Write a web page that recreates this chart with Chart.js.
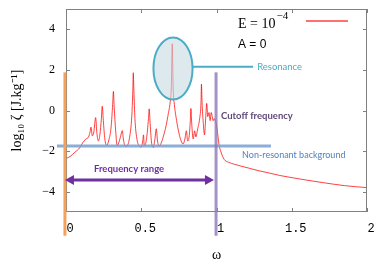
<!DOCTYPE html>
<html lang="en">
<head>
<meta charset="UTF-8">
<title>Resonance spectrum</title>
<script src="https://cdn.jsdelivr.net/npm/chart.js"></script>
<style>
  html, body { margin: 0; padding: 0; background: #fff; }
</style>
</head>
<body>
<canvas id="chart" width="382" height="265"></canvas>
<script>
// frequency (omega) and log10 of the absorbed energy
const omega = [
  0.000, 0.030, 0.060, 0.090, 0.110, 0.130, 0.150, 0.160, 0.166, 0.175,
  0.185, 0.197, 0.205, 0.215, 0.225, 0.235, 0.241, 0.248, 0.258, 0.270,
  0.285, 0.300, 0.310, 0.315, 0.320, 0.330, 0.340, 0.350, 0.362, 0.374,
  0.382, 0.395, 0.410, 0.425, 0.437, 0.444, 0.447, 0.451, 0.458, 0.470,
  0.485, 0.500, 0.510, 0.515, 0.520, 0.535, 0.548, 0.553, 0.558, 0.568,
  0.580, 0.590, 0.600, 0.608, 0.620, 0.635, 0.650, 0.665, 0.680, 0.692,
  0.700, 0.706, 0.712, 0.720, 0.735, 0.750, 0.765, 0.778, 0.790, 0.800,
  0.808, 0.818, 0.826, 0.830, 0.835, 0.845, 0.855, 0.863, 0.875, 0.888,
  0.897, 0.900, 0.904, 0.912, 0.920, 0.928, 0.935, 0.942, 0.950, 0.958,
  0.965, 0.972, 0.978, 0.985, 0.992, 1.000, 1.010, 1.017, 1.030, 1.050,
  1.080, 1.120, 1.163, 1.220, 1.276, 1.350, 1.420, 1.495, 1.600, 1.714,
  1.850, 2.000
];
const logZeta = [
  -2.37, -2.25, -2.05, -1.85, -1.60, -1.42, -1.30, -1.05, -0.82, -1.25,
  -1.05, -0.35, -1.10, -1.50, -1.20, -0.40, 0.21, -0.50, -1.40, -1.72,
  -1.45, -0.80, 0.30, 0.94, 0.20, -1.00, -1.73, -1.60, -1.30, -0.99,
  -1.45, -1.78, -1.70, -1.20, -0.30, 1.00, 1.86, 1.00, -0.40, -1.35,
  -1.73, -1.80, -1.50, -1.20, -1.75, -1.40, -0.40, 0.08, -0.50, -1.55,
  -1.82, -1.45, -0.90, -1.50, -1.75, -1.55, -1.20, -0.75, -0.15, 0.40,
  1.20, 3.29, 1.10, 0.30, -0.50, -1.10, -1.50, -1.65, -1.40, -1.00,
  -1.50, -1.30, -0.50, 0.10, -0.60, -1.40, -1.00, -1.30, -0.90, -0.40,
  0.40, 1.30, 0.40, -0.60, -1.20, -0.40, 0.35, -0.30, -0.10, -0.50,
  -0.10, -0.30, -0.50, -0.40, -0.50, -0.70, -1.30, -1.70, -2.05, -2.40,
  -2.55, -2.65, -2.74, -2.85, -2.96, -3.08, -3.20, -3.30, -3.43, -3.56,
  -3.70, -3.80
];
const xTicks = [0, 0.5, 1, 1.5, 2];
const yTicks = [-4, -2, 0, 2, 4];

// annotation layout in data units
const notes = {
  ellipse: { x: 0.711, y: 2.07, rx: 0.13, ry: 1.53 },
  resonance: { x1: 0.844, x2: 1.243, y: 2.15, textX: 1.27 },
  cutoff: { x: 0.997, y1: 1.88, y2: -6.17, textX: 1.03, textY: -0.25 },
  start: { x: -0.007, y1: 1.88, y2: -6.17 },
  background: { y: -1.75, x1: -0.06, x2: 1.362, textX: 1.17, textY: -2.22 },
  range: { x1: -0.007, x2: 0.983, y: -3.42, textX: 0.419, textY: -2.86 }
};

const overlay = {
  id: 'overlay',
  afterDatasetsDraw(chart) {
    const ctx = chart.ctx;
    const xs = chart.scales.x, ys = chart.scales.y;
    const px = v => xs.getPixelForValue(v);
    const py = v => ys.getPixelForValue(v);
    const area = chart.chartArea;
    ctx.save();

    // frame and inward ticks
    ctx.strokeStyle = '#808080';
    ctx.lineWidth = 1;
    ctx.strokeRect(area.left + 0.5, area.top + 0.5, area.right - area.left - 1, area.bottom - area.top - 1);
    ctx.beginPath();
    xTicks.forEach(v => {
      const x = Math.round(px(v)) + 0.5;
      ctx.moveTo(x, area.bottom); ctx.lineTo(x, area.bottom - 4);
      ctx.moveTo(x, area.top); ctx.lineTo(x, area.top + 4);
    });
    yTicks.forEach(v => {
      const y = Math.round(py(v)) + 0.5;
      ctx.moveTo(area.left, y); ctx.lineTo(area.left + 4, y);
      ctx.moveTo(area.right, y); ctx.lineTo(area.right - 4, y);
    });
    ctx.stroke();

    // legend sample line, same style as the dataset
    const ds = chart.data.datasets[0];
    ctx.strokeStyle = ds.borderColor;
    ctx.lineWidth = 1.5;
    ctx.beginPath();
    ctx.moveTo(area.right - 61, area.top + 12); ctx.lineTo(area.right - 19, area.top + 12);
    ctx.stroke();

    // non-resonant background line
    const bg = notes.background;
    ctx.strokeStyle = 'rgba(120,160,207,0.85)';
    ctx.lineWidth = 3;
    ctx.beginPath();
    ctx.moveTo(px(bg.x1), py(bg.y)); ctx.lineTo(px(bg.x2), py(bg.y));
    ctx.stroke();

    // orange start line
    const st = notes.start;
    ctx.strokeStyle = '#f4a25a';
    ctx.beginPath();
    ctx.moveTo(px(st.x), py(st.y1)); ctx.lineTo(px(st.x), py(st.y2));
    ctx.stroke();

    // cutoff line
    const co = notes.cutoff;
    ctx.strokeStyle = 'rgba(140,120,185,0.8)';
    ctx.beginPath();
    ctx.moveTo(px(co.x), py(co.y1)); ctx.lineTo(px(co.x), py(co.y2));
    ctx.stroke();

    // resonance ellipse + connector
    const el = notes.ellipse;
    const ex = px(el.x), ey = py(el.y);
    const erx = px(el.x + el.rx) - ex, ery = ey - py(el.y + el.ry);
    ctx.beginPath();
    ctx.ellipse(ex, ey, erx, ery, 0, 0, Math.PI * 2);
    ctx.fillStyle = 'rgba(200,219,226,0.6)';
    ctx.fill();
    ctx.strokeStyle = '#4bacc6';
    ctx.lineWidth = 2;
    ctx.stroke();
    const rs = notes.resonance;
    ctx.beginPath();
    ctx.moveTo(px(rs.x1), py(rs.y)); ctx.lineTo(px(rs.x2), py(rs.y));
    ctx.stroke();

    // frequency range arrow
    const rg = notes.range;
    const ax1 = px(rg.x1), ax2 = px(rg.x2), ay = py(rg.y);
    ctx.strokeStyle = '#7030a0';
    ctx.fillStyle = '#7030a0';
    ctx.lineWidth = 3;
    ctx.beginPath();
    ctx.moveTo(ax1 + 6, ay); ctx.lineTo(ax2 - 6, ay);
    ctx.stroke();
    ctx.beginPath();
    ctx.moveTo(ax1, ay); ctx.lineTo(ax1 + 9, ay - 5); ctx.lineTo(ax1 + 9, ay + 5); ctx.closePath();
    ctx.moveTo(ax2, ay); ctx.lineTo(ax2 - 9, ay - 5); ctx.lineTo(ax2 - 9, ay + 5); ctx.closePath();
    ctx.fill();

    // annotation texts
    ctx.textBaseline = 'middle';
    ctx.textAlign = 'left';
    ctx.font = '9.5px Lato';
    ctx.fillStyle = '#4bacc6';
    ctx.fillText('Resonance', px(rs.textX), py(rs.y));
    ctx.font = 'bold 9.5px Lato';
    ctx.fillStyle = '#5f497a';
    ctx.fillText('Cutoff frequency', px(co.textX), py(co.textY));
    ctx.font = '9px Lato';
    ctx.fillStyle = '#4f81bd';
    ctx.fillText('Non-resonant background', px(bg.textX), py(bg.textY));
    ctx.font = 'bold 9.5px Lato';
    ctx.fillStyle = '#7030a0';
    ctx.textAlign = 'center';
    ctx.fillText('Frequency range', px(rg.textX), py(rg.textY));

    // legend text
    ctx.textAlign = 'left';
    ctx.textBaseline = 'alphabetic';
    ctx.fillStyle = '#000';
    ctx.font = '14px "Liberation Serif"';
    const lx = area.right - 129;
    ctx.fillText('E = 10', lx, area.top + 19);
    const w = ctx.measureText('E = 10').width;
    ctx.font = '11px "Liberation Serif"';
    ctx.fillText('\u22124', lx + w + 1, area.top + 10);
    ctx.font = '12px "Liberation Sans"';
    ctx.textBaseline = 'middle';
    ctx.fillText('A = 0', lx, area.top + 36);

    ctx.restore();
  }
};

const ctx = document.getElementById('chart').getContext('2d');
new Chart(ctx, {
  type: 'line',
  data: {
    datasets: [{
      label: 'E = 1e-4',
      data: omega.map((w, i) => ({ x: w, y: logZeta[i] })),
      borderColor: 'rgba(255,0,0,0.75)',
      borderWidth: 1,
      pointRadius: 0,
      fill: false,
      cubicInterpolationMode: 'monotone'
    }]
  },
  options: {
    responsive: false,
    animation: false,
    layout: { padding: { top: 9, right: 15, left: 0, bottom: 0 } },
    plugins: {
      legend: { display: false },
      tooltip: { enabled: false }
    },
    scales: {
      x: {
        type: 'linear',
        min: 0,
        max: 2,
        afterBuildTicks: s => { s.ticks = xTicks.map(v => ({ value: v })); },
        afterFit: s => { s.height = 53; s.paddingLeft = 0; s.paddingRight = 0; },
        grid: { display: false, drawTicks: false },
        border: { display: false },
        ticks: {
          color: '#000',
          padding: 10,
          labelOffset: 4,
          font: { family: 'Liberation Mono', size: 12 },
          callback: v => String(v)
        },
        title: {
          display: true,
          text: 'ω',
          color: '#000',
          font: { family: 'Liberation Serif', size: 14 },
          padding: { top: 0, bottom: 1 }
        }
      },
      y: {
        type: 'linear',
        min: -5,
        max: 5,
        afterBuildTicks: s => { s.ticks = yTicks.map(v => ({ value: v })); },
        afterFit: s => { s.width = 66; s.paddingTop = 0; s.paddingBottom = 0; },
        grid: { display: false, drawTicks: false },
        border: { display: false },
        ticks: {
          color: '#000',
          padding: 11,
          font: { family: 'Liberation Serif', size: 12 },
          callback: v => v < 0 ? '\u2212' + Math.abs(v) : String(v)
        },
        title: {
          display: true,
          text: 'log₁₀ ζ [J.kg⁻¹]',
          color: '#000',
          font: { family: 'Liberation Serif', size: 14 },
          padding: { top: 9, bottom: 0 }
        }
      }
    }
  },
  plugins: [overlay]
});
</script>
</body>
</html>
